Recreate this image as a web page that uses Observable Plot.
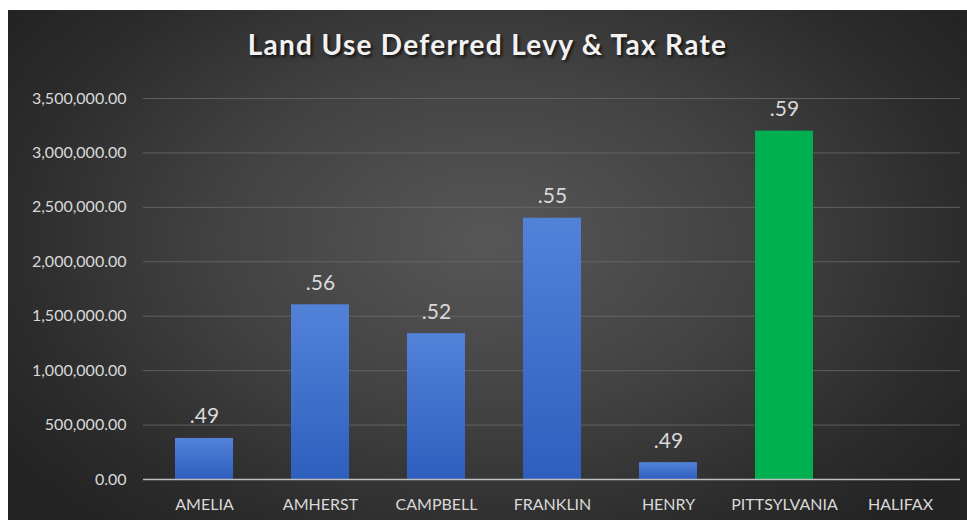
<!DOCTYPE html>
<html>
<head>
<meta charset="utf-8">
<script src="https://cdn.jsdelivr.net/npm/d3@7"></script>
<script src="https://cdn.jsdelivr.net/npm/@observablehq/plot@0.6"></script>
<style>
  html, body { margin: 0; padding: 0; background: #fff; }
  #frame {
    position: absolute; left: 8px; top: 10px; width: 959px; height: 510px;
    background: radial-gradient(ellipse 62% 75% at 50% 45%, #575757 0%, #424242 45%, #2c2c2c 80%, #232323 100%);
    overflow: hidden;
  }
  #title {
    position: absolute; left: 0; top: 17px; width: 100%; text-align: center;
    font-family: Lato, "Open Sans", sans-serif; font-weight: 700; font-size: 28px;
    letter-spacing: 1.3px; color: #f2f2f2;
    text-shadow: 2px 2px 3px rgba(0,0,0,0.7);
  }
  #chart { position: absolute; left: 0; top: 65px; }
</style>
</head>
<body>
<div id="frame">
  <div id="title">Land Use Deferred Levy &amp; Tax Rate</div>
  <div id="chart"></div>
</div>
<script>
const counties = ["AMELIA", "AMHERST", "CAMPBELL", "FRANKLIN", "HENRY", "PITTSYLVANIA", "HALIFAX"];
const levy = [377000, 1605000, 1340000, 2400000, 155000, 3200000, 0];
const taxRate = [".49", ".56", ".52", ".55", ".49", ".59", ""];
const yTicks = [0, 500000, 1000000, 1500000, 2000000, 2500000, 3000000, 3500000];

const data = counties.map((c, i) => ({county: c, levy: levy[i], rate: taxRate[i]}));

const defs = () => {
  const ns = "http://www.w3.org/2000/svg";
  const d = document.createElementNS(ns, "defs");
  d.innerHTML = `<linearGradient id="blueGrad" x1="0" y1="0" x2="0" y2="1">
      <stop offset="0%" stop-color="#5282d8"/>
      <stop offset="100%" stop-color="#2e5fbf"/>
    </linearGradient>`;
  return d;
};

const chart = Plot.plot({
  width: 959,
  height: 445,
  marginLeft: 135,
  marginRight: 7,
  marginTop: 23,
  marginBottom: 41,
  style: {background: "transparent", color: "#d9d9d9", overflow: "visible"},
  x: {domain: counties, paddingInner: 0.5, paddingOuter: 0.25, label: null},
  y: {domain: [0, 3500000], label: null},
  marks: [
    defs,
    Plot.gridY(yTicks, {stroke: "#6a6a6a", strokeOpacity: 0.8, strokeWidth: 1}),
    Plot.barY(data, {
      x: "county", y: "levy",
      fill: d => d.county === "PITTSYLVANIA" ? "#00b050" : "url(#blueGrad)"
    }),
    Plot.ruleY([0], {stroke: "#bfbfbf", strokeWidth: 1.5}),
    Plot.text(data, {
      x: "county", y: "levy", text: "rate",
      lineAnchor: "bottom", dy: -15,
      fill: "#d9d9d9", fontSize: 21, fontFamily: "Lato, 'Open Sans', sans-serif"
    }),
    Plot.axisY({
      ticks: yTicks, tickSize: 0, tickPadding: 17,
      tickFormat: d3.format(",.2f"),
      fontSize: 16, fontFamily: "Lato, 'Open Sans', sans-serif", fill: "#d9d9d9"
    }),
    Plot.axisX({
      tickSize: 0, tickPadding: 19,
      fontSize: 16, fontFamily: "Lato, 'Open Sans', sans-serif", fill: "#d9d9d9"
    })
  ]
});
document.getElementById("chart").appendChild(chart);
</script>
</body>
</html>
